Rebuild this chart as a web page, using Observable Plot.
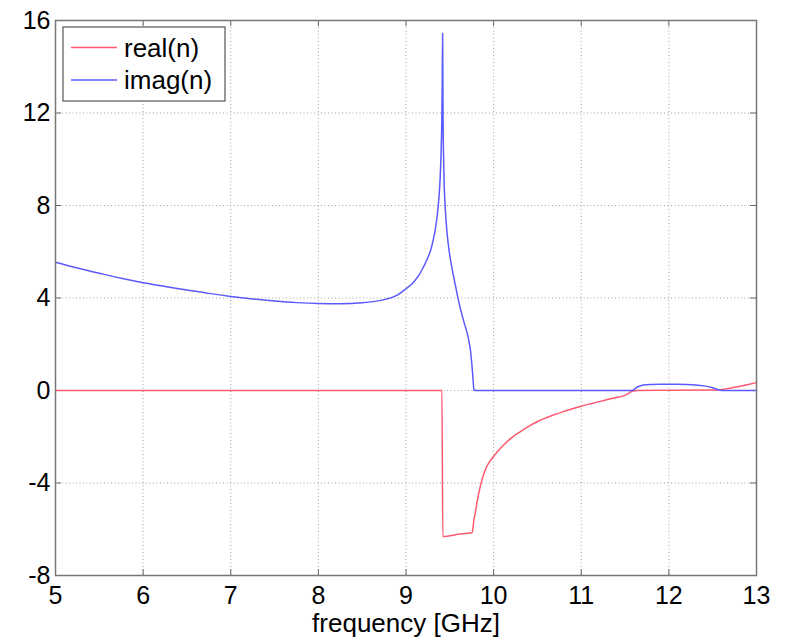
<!DOCTYPE html>
<html>
<head>
<meta charset="utf-8">
<script src="https://cdn.jsdelivr.net/npm/d3@7"></script>
<script src="https://cdn.jsdelivr.net/npm/@observablehq/plot@0.6"></script>
<style>
  html, body { margin: 0; padding: 0; background: #fff; }
</style>
</head>
<body>
<div id="chart"></div>
<script>
// ---- data ----
const seriesNames = ["real(n)", "imag(n)"];
const seriesColors = ["#ff5a70", "#5a5aff"];

const xTicks = [5, 6, 7, 8, 9, 10, 11, 12, 13];
const yTicks = [-8, -4, 0, 4, 8, 12, 16];
const xLabel = "frequency [GHz]";

const freqReal = [5.0, 9.41, 9.42, 9.6, 9.757, 9.765, 9.775, 9.785, 9.795, 9.81, 9.83, 9.852, 9.88, 9.92, 9.96, 10.0, 10.05, 10.117, 10.2, 10.31, 10.4, 10.5, 10.6, 10.69, 10.8, 10.9, 10.99, 11.1, 11.26, 11.4, 11.49, 11.55, 11.58, 11.65, 12.0, 12.57, 12.65, 12.75, 12.88, 13.0];
const realN = [0, 0, -6.31, -6.22, -6.14, -5.9, -5.6, -5.4, -5.2, -4.85, -4.45, -4.08, -3.7, -3.3, -3.05, -2.85, -2.62, -2.35, -2.06, -1.77, -1.55, -1.34, -1.18, -1.05, -0.91, -0.79, -0.69, -0.58, -0.43, -0.3, -0.22, -0.1, -0.03, 0, 0.01, 0.02, 0.07, 0.14, 0.24, 0.34];

const freqImag = [5.0, 5.25, 5.5, 5.75, 6.0, 6.25, 6.5, 6.75, 7.0, 7.25, 7.5, 7.75, 8.0, 8.25, 8.5, 8.75, 8.9, 9.0, 9.05, 9.1, 9.15, 9.2, 9.25, 9.28, 9.31, 9.34, 9.36, 9.375, 9.39, 9.4, 9.408, 9.413, 9.418, 9.422, 9.428, 9.435, 9.445, 9.46, 9.48, 9.51, 9.55, 9.585, 9.62, 9.66, 9.7, 9.72, 9.735, 9.75, 9.765, 9.775, 9.8, 11.58, 11.64, 11.71, 11.8, 11.9, 12.0, 12.1, 12.2, 12.3, 12.4, 12.5, 12.57, 12.6, 13.0];
const imagN = [5.55, 5.3, 5.07, 4.85, 4.66, 4.5, 4.35, 4.2, 4.07, 3.96, 3.87, 3.8, 3.76, 3.75, 3.79, 3.93, 4.12, 4.4, 4.55, 4.75, 5.0, 5.35, 5.75, 6.05, 6.5, 7.1, 7.7, 8.3, 9.2, 10.2, 11.5, 13.0, 15.45, 12.2, 10.3, 9.0, 8.1, 7.2, 6.4, 5.6, 4.8, 4.15, 3.55, 2.98, 2.45, 2.1, 1.75, 1.2, 0.5, 0.02, 0, 0, 0.15, 0.24, 0.26, 0.27, 0.27, 0.27, 0.26, 0.24, 0.2, 0.12, 0.02, 0, 0];

// ---- tables built from the arrays ----
const realData = freqReal.map((f, i) => ({f, v: realN[i]}));
const imagData = freqImag.map((f, i) => ({f, v: imagN[i]}));

const FONT = "'Liberation Sans', Arial, Helvetica, sans-serif";

function legendMark(index, scales, values, dimensions) {
  const g = d3.create("svg:g").attr("text-anchor", "start");
  const x0 = dimensions.marginLeft + 8, y0 = dimensions.marginTop + 7;
  g.append("rect")
    .attr("x", x0).attr("y", y0)
    .attr("width", 162).attr("height", 74)
    .attr("fill", "#fff").attr("stroke", "#555").attr("stroke-width", 1.2);
  seriesNames.forEach((name, i) => {
    const yy = y0 + 20.5 + i * 32.5;
    g.append("line")
      .attr("x1", x0 + 8).attr("x2", x0 + 54)
      .attr("y1", yy).attr("y2", yy)
      .attr("stroke", seriesColors[i]).attr("stroke-width", 1.5);
    g.append("text")
      .attr("x", x0 + 61).attr("y", yy).attr("dy", "0.35em")
      .attr("text-anchor", "start")
      .attr("font-size", 26).attr("font-family", FONT)
      .attr("fill", "#000")
      .text(name);
  });
  return g.node();
}

const chart = Plot.plot({
  width: 786,
  height: 640,
  marginLeft: 55,
  marginRight: 30,
  marginTop: 20,
  marginBottom: 65,
  style: {fontFamily: FONT, fontSize: "25px", background: "#fff", color: "#000"},
  x: {domain: [5, 13], label: null},
  y: {domain: [-8, 16], label: null},
  marks: [
    Plot.gridX(xTicks, {stroke: "#8a8a8a", strokeOpacity: 0.8, strokeDasharray: "1,2.5"}),
    Plot.gridY(yTicks, {stroke: "#8a8a8a", strokeOpacity: 0.8, strokeDasharray: "1,2.5"}),
    Plot.tickX(xTicks, {x: d => d, insetTop: 549, stroke: "#666"}),
    Plot.tickX(xTicks, {x: d => d, insetBottom: 549, stroke: "#666"}),
    Plot.tickY(yTicks, {y: d => d, insetRight: 695, stroke: "#666"}),
    Plot.tickY(yTicks, {y: d => d, insetLeft: 695, stroke: "#666"}),
    Plot.axisX(xTicks, {tickSize: 0, tickPadding: 11, tickFormat: d => String(d), label: null}),
    Plot.axisY(yTicks, {tickSize: 0, tickPadding: 5, tickFormat: d => String(d), label: null}),
    Plot.line(realData, {x: "f", y: "v", stroke: seriesColors[0], strokeWidth: 1.5, curve: "monotone-x"}),
    Plot.line(imagData, {x: "f", y: "v", stroke: seriesColors[1], strokeWidth: 1.5, curve: "monotone-x"}),
    Plot.frame({stroke: "#777", strokeWidth: 1.5}),
    Plot.text([xLabel], {frameAnchor: "bottom", lineAnchor: "top", dy: 38, fontSize: 26, fill: "#000"}),
    legendMark
  ]
});
document.getElementById("chart").appendChild(chart);
</script>
</body>
</html>
